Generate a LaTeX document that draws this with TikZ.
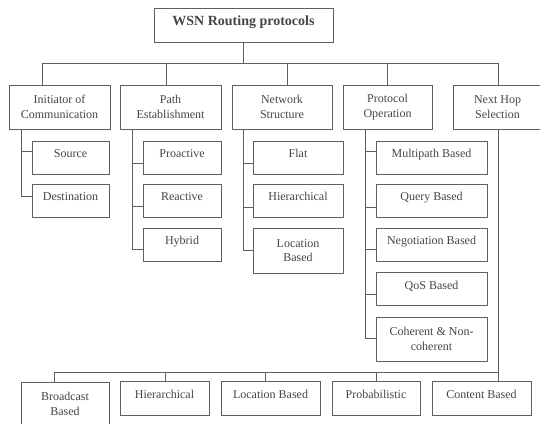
\documentclass[tikz,border=0pt]{standalone}
\usepackage{fontspec}
\setmainfont{Liberation Serif}
\definecolor{linec}{RGB}{95,95,95}
\definecolor{txtc}{RGB}{70,70,70}
\begin{document}
\begin{tikzpicture}[x=1pt,y=-1pt,
  box/.style={draw=linec, line width=1pt, inner sep=0pt, align=center, text=txtc,
    font=\fontsize{12}{14.5}\selectfont},
  one/.style={text height=8pt, text depth=8pt},
  conn/.style={draw=linec, line width=1pt}]
\useasboundingbox (0,0) rectangle (540,423);
\clip (0,0) rectangle (540,423);
\fill[white] (0,0) rectangle (540,423);
% root
\node[box, minimum width=179, minimum height=34, font=\fontsize{14}{16}\selectfont\bfseries, one] (root) at (243.5,25) {WSN Routing protocols};
% level 1
\node[box, minimum width=101, minimum height=44] (init) at (59.5,107) {Initiator of\\Communication};
\node[box, minimum width=101, minimum height=44] (path) at (170.5,107) {Path\\Establishment};
\node[box, minimum width=100, minimum height=44] (net) at (282,107) {Network\\Structure};
\node[box, minimum width=89, minimum height=44] (proto) at (387.5,107) {Protocol\\Operation};
\node[box, minimum width=89, minimum height=44] (nh) at (497.5,107) {Next Hop\\Selection};
% initiator children
\node[box, one, minimum width=77, minimum height=33] (src) at (70.5,157.5) {Source};
\node[box, one, minimum width=77, minimum height=33] (dst) at (70.5,200.5) {Destination};
% path children
\node[box, one, minimum width=78, minimum height=33] (pro) at (182,157.5) {Proactive};
\node[box, one, minimum width=78, minimum height=33] (rea) at (182,200.5) {Reactive};
\node[box, one, minimum width=78, minimum height=33] (hyb) at (182,244.5) {Hybrid};
% network children
\node[box, one, minimum width=90, minimum height=33] (flat) at (298,157.5) {Flat};
\node[box, one, minimum width=90, minimum height=33] (hier) at (298,200.5) {Hierarchical};
\node[box, minimum width=90, minimum height=45] (loc) at (298,250.5) {Location\\Based};
% protocol children
\node[box, one, minimum width=111, minimum height=33] (multi) at (431.5,157.5) {Multipath Based};
\node[box, one, minimum width=111, minimum height=33] (query) at (431.5,200.5) {Query Based};
\node[box, one, minimum width=111, minimum height=33] (nego) at (431.5,244.5) {Negotiation Based};
\node[box, one, minimum width=111, minimum height=33] (qos) at (431.5,289) {QoS Based};
\node[box, minimum width=111, minimum height=44] (coh) at (431.5,339) {Coherent \& Non-\\coherent};
% next hop children
\node[box, minimum width=88, minimum height=44] (bc) at (65,404) {Broadcast\\Based};
\node[box, one, minimum width=89, minimum height=34] (bh) at (164.5,398) {Hierarchical};
\node[box, one, minimum width=99, minimum height=34] (bl) at (270.5,398) {Location Based};
\node[box, one, minimum width=88, minimum height=34] (bp) at (376,398) {Probabilistic};
\node[box, one, minimum width=99, minimum height=34] (bcn) at (481.5,398) {Content Based};
% top bus
\coordinate (tb) at (root.south |- 0,63);
\draw[conn] (root.south) -- (tb);
\draw[conn] (tb) -| (init.north -| 42,0);
\draw[conn] (tb) -| (path.north -| 166,0);
\draw[conn] (tb) -| (net.north -| 287,0);
\draw[conn] (tb) -| (proto.north -| 387,0);
\draw[conn] (tb) -| (nh.north -| 498,0);
% initiator branches
\draw[conn] (init.south -| 21,0) |- (src.west |- 0,151);
\draw[conn] (init.south -| 21,0) |- (dst.west |- 0,196);
% path branches
\draw[conn] (path.south -| 132,0) |- (pro.west |- 0,163);
\draw[conn] (path.south -| 132,0) |- (rea.west |- 0,206);
\draw[conn] (path.south -| 132,0) |- (hyb.west |- 0,249);
% network branches
\draw[conn] (net.south -| 243,0) |- (flat.west |- 0,163);
\draw[conn] (net.south -| 243,0) |- (hier.west |- 0,207);
\draw[conn] (net.south -| 243,0) |- (loc.west |- 0,250);
% protocol branches
\draw[conn] (proto.south -| 365,0) |- (multi.west |- 0,151);
\draw[conn] (proto.south -| 365,0) |- (query.west |- 0,207);
\draw[conn] (proto.south -| 365,0) |- (nego.west |- 0,249);
\draw[conn] (proto.south -| 365,0) |- (qos.west |- 0,294);
\draw[conn] (proto.south -| 365,0) |- (coh.west |- 0,338);
% next hop bus
\coordinate (bb) at (498,372);
\draw[conn] (nh.south -| bb) -- (bb);
\draw[conn] (bb) -| (bc.north -| 54,0);
\draw[conn] (bb) -| (bh.north -| 165,0);
\draw[conn] (bb) -| (bl.north -| 265,0);
\draw[conn] (bb) -| (bp.north -| 376,0);
\draw[conn] (bb) -| (bcn.north -| 498,0);
\end{tikzpicture}
\end{document}
